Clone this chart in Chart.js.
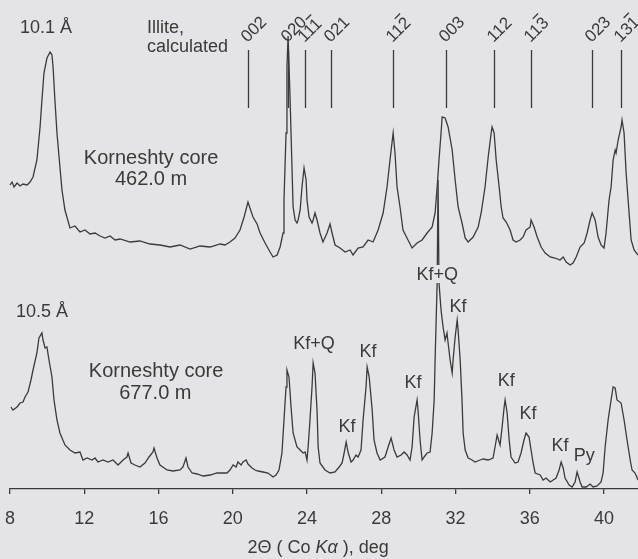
<!DOCTYPE html>
<html><head><meta charset="utf-8">
<script src="https://cdn.jsdelivr.net/npm/chart.js@4.4.1/dist/chart.umd.min.js"></script>
<style>
html,body{margin:0;padding:0;background:#e4e4e7;}
#wrap{width:638px;height:559px;position:relative;}
</style></head><body>
<div id="wrap"><canvas id="c"></canvas></div>
<script>
// ---- data: 2θ (deg, Co Kα) and intensity (arbitrary units) ----
const upperTheta = [8.00,8.11,8.22,8.38,8.54,8.70,8.92,9.08,9.24,9.45,9.62,9.72,9.83,9.99,10.16,10.26,10.32,10.42,10.53,10.69,10.80,10.96,11.23,11.50,11.77,12.04,12.31,12.58,12.85,13.12,13.39,13.66,13.93,14.47,15.00,15.54,16.08,16.62,17.16,17.70,18.24,18.78,19.32,19.58,19.85,20.12,20.39,20.61,20.82,21.09,21.31,21.47,21.74,22.01,22.17,22.39,22.55,22.71,22.76,22.87,22.92,22.98,23.09,23.19,23.25,23.36,23.46,23.52,23.63,23.73,23.84,23.95,24.00,24.11,24.27,24.33,24.43,24.54,24.70,24.86,25.08,25.24,25.35,25.51,25.78,26.05,26.32,26.48,26.75,27.02,27.29,27.56,27.83,28.10,28.31,28.47,28.64,28.74,28.85,29.01,29.17,29.44,29.66,29.93,30.20,30.47,30.74,30.90,31.01,31.11,31.22,31.28,31.44,31.60,31.82,31.98,32.14,32.35,32.52,32.68,32.95,33.22,33.38,33.59,33.76,33.92,33.97,34.08,34.19,34.35,34.46,34.56,34.73,34.94,35.10,35.26,35.48,35.64,35.80,36.02,36.07,36.23,36.40,36.61,36.83,37.10,37.36,37.63,37.80,37.96,38.17,38.33,38.50,38.71,38.93,39.09,39.25,39.36,39.52,39.68,39.84,40.00,40.11,40.27,40.38,40.49,40.60,40.65,40.76,40.92,40.97,41.08,41.19,41.35,41.46,41.62,41.83];
const upperIntensity = [80,83,78,82,79,81,80,83,88,105,138,165,192,207,213,210,198,165,132,98,75,55,37,39,33,35,31,32,29,27,29,25,26,23,24,21,20,18,20,16,19,18,21,20,23,27,35,48,63,48,41,32,22,13,8,10,18,32,65,132,198,229,165,98,58,45,42,45,55,78,97,85,65,48,42,45,52,45,32,23,32,41,32,20,17,13,15,10,17,18,25,23,35,52,78,105,132,112,78,58,35,25,17,22,25,32,38,52,78,105,132,148,147,138,115,85,58,42,27,23,28,38,52,78,108,132,138,132,105,78,58,47,43,35,25,23,25,28,35,38,45,38,28,18,12,8,7,5,8,3,0,2,8,18,22,32,45,52,45,28,20,17,32,65,78,105,115,112,125,138,145,132,92,52,25,15,10];
const lowerTheta = [8.05,8.16,8.38,8.54,8.70,8.81,8.97,9.13,9.24,9.45,9.56,9.72,9.78,9.89,9.99,10.10,10.26,10.37,10.53,10.69,10.96,11.23,11.50,11.77,11.93,12.15,12.42,12.58,12.74,13.01,13.28,13.55,13.82,14.09,14.30,14.36,14.52,14.73,15.00,15.27,15.49,15.70,15.76,15.92,16.08,16.46,16.78,17.16,17.32,17.48,17.59,17.81,18.08,18.40,18.78,19.15,19.32,19.69,19.85,20.02,20.18,20.28,20.45,20.55,20.72,20.82,21.04,21.20,21.36,21.63,21.90,22.17,22.33,22.49,22.65,22.76,22.87,22.92,23.03,23.14,23.25,23.46,23.63,23.79,23.90,24.00,24.06,24.16,24.27,24.33,24.43,24.54,24.60,24.70,24.97,25.24,25.51,25.73,25.89,26.00,26.11,26.21,26.37,26.48,26.64,26.75,26.91,27.02,27.18,27.24,27.35,27.51,27.61,27.77,27.94,28.20,28.37,28.53,28.69,28.85,29.07,29.23,29.39,29.55,29.66,29.77,29.93,29.98,30.09,30.20,30.31,30.47,30.63,30.74,30.85,30.90,31.01,31.06,31.11,31.22,31.33,31.44,31.54,31.60,31.71,31.82,31.87,31.98,32.09,32.14,32.25,32.35,32.41,32.52,32.68,32.89,33.05,33.32,33.49,33.76,34.02,34.13,34.24,34.40,34.51,34.62,34.67,34.78,34.89,34.99,35.21,35.37,35.53,35.69,35.80,35.96,36.07,36.18,36.29,36.56,36.72,36.88,37.10,37.26,37.42,37.58,37.69,37.80,37.90,38.12,38.28,38.44,38.55,38.71,38.82,39.04,39.25,39.41,39.63,39.84,39.95,40.06,40.22,40.38,40.49,40.60,40.70,40.92,41.08,41.24,41.41,41.51,41.67,41.83];
const lowerIntensity = [82,79,82,86,87,92,97,109,119,136,151,156,149,141,142,129,112,89,69,56,44,39,36,37,29,31,29,31,27,29,27,29,24,29,32,36,26,24,22,26,32,37,41,31,24,19,18,19,22,31,22,16,15,13,14,16,16,16,19,24,22,27,24,27,29,25,21,19,18,17,16,12,14,19,36,69,102,119,112,82,56,42,39,36,37,29,42,69,102,126,116,79,42,26,19,16,17,22,26,36,47,37,27,29,34,32,39,69,102,122,112,79,49,36,29,32,42,51,39,32,34,37,34,29,42,72,89,79,49,29,32,36,37,56,89,129,206,309,206,179,162,149,156,146,129,116,129,152,169,159,129,89,56,39,31,29,27,29,30,29,31,42,54,44,62,82,89,76,49,32,26,27,36,49,56,52,39,26,16,14,9,11,7,9,11,19,27,21,11,4,2,7,17,7,2,2,5,2,3,7,16,42,69,89,102,101,89,86,69,49,29,19,16,9];
const UPPER_OFFSET = 224;

// calculated illite reflections
const hklLabels = ['002','020','111','021','112','003','112','113','023','131'];
const hklBarLast = [false,false,true,false,true,false,false,true,false,true];
const hklTheta = [20.82,22.98,23.89,25.30,28.64,31.49,34.08,36.07,39.36,40.92];

// phase labels on lower pattern
const phaseLabels = ['Kf+Q','Kf','Kf','Kf','Kf+Q','Kf','Kf','Kf','Kf','Py'];
const phaseTheta  = [24.38,26.16,27.29,29.71,31.01,32.14,34.73,35.91,37.63,38.93];
const phaseLevel  = [146,63,138,107,215,183,109,76,44,34];
const phaseMasked = [false,false,false,false,true,false,false,false,false,false];

const tickValues = [8,12,16,20,24,28,32,36,40];

const FONT = '"Liberation Sans", Arial, sans-serif';
const INK = '#3a3a3a';
const BG = '#e4e4e7';

function txt(ctx, s, px, pyCenter, size, align) {
  ctx.font = size + 'px ' + FONT;
  ctx.textAlign = align || 'center';
  ctx.textBaseline = 'alphabetic';
  ctx.fillText(s, px, pyCenter + size * 0.358);
}

const decor = {
  id: 'decor',
  afterDatasetsDraw(chart) {
    const {ctx, scales: {x, y}} = chart;
    ctx.save();
    ctx.fillStyle = INK; ctx.strokeStyle = INK; ctx.lineWidth = 1.3;
    // hkl marker lines and rotated labels
    const yTop = y.getPixelForValue(439), yBot = y.getPixelForValue(381);
    hklTheta.forEach((t, i) => {
      const px = Math.round(x.getPixelForValue(t)) + 0.5;
      ctx.beginPath(); ctx.moveTo(px, yTop); ctx.lineTo(px, yBot); ctx.stroke();
      ctx.save();
      ctx.translate(px - 1, yTop - 7);
      ctx.rotate(-Math.PI / 4);
      ctx.font = '17px ' + FONT;
      ctx.textAlign = 'left'; ctx.textBaseline = 'alphabetic';
      const s = hklLabels[i];
      ctx.fillText(s, 0, 0);
      if (hklBarLast[i]) {
        const w = ctx.measureText(s).width, wl = ctx.measureText(s.slice(-1)).width;
        ctx.fillRect(w - wl + 1, -17 * 0.716 - 4, wl - 2, 1.4);
      }
      ctx.restore();
    });
    // phase labels
    phaseLabels.forEach((s, i) => {
      const px = x.getPixelForValue(phaseTheta[i]);
      const py = y.getPixelForValue(phaseLevel[i]);
      if (phaseMasked[i]) {
        ctx.font = '18px ' + FONT;
        const w = ctx.measureText(s).width;
        ctx.fillStyle = BG;
        ctx.fillRect(px - w / 2 - 2, py - 9, w + 4, 18);
        ctx.fillStyle = INK;
      }
      txt(ctx, s, px, py, 18);
    });
    // sample texts
    const up = (v) => y.getPixelForValue(v);
    txt(ctx, '10.1 Å', x.getPixelForValue(9.94), up(462), 18);
    txt(ctx, 'Illite,', x.getPixelForValue(15.38), up(462), 18, 'left');
    txt(ctx, 'calculated', x.getPixelForValue(15.38), up(443), 18, 'left');
    txt(ctx, 'Korneshty core', x.getPixelForValue(15.60), up(332), 20);
    txt(ctx, '462.0 m', x.getPixelForValue(15.60), up(311), 20);
    txt(ctx, '10.5 Å', x.getPixelForValue(9.72), up(178), 18);
    txt(ctx, 'Korneshty core', x.getPixelForValue(15.87), up(119), 20);
    txt(ctx, '677.0 m', x.getPixelForValue(15.83), up(97), 20);
    // axis title with italic K alpha
    const parts = [['2Θ ( Co ', ''], ['Kα', 'italic '], [' ), deg', '']];
    let total = 0;
    parts.forEach(p => { ctx.font = p[1] + '18px ' + FONT; total += ctx.measureText(p[0]).width; });
    let cx = x.getPixelForValue(24.6) - total / 2;
    const by = chart.height - 12 + 18 * 0.358;
    ctx.textAlign = 'left'; ctx.textBaseline = 'alphabetic';
    parts.forEach(p => { ctx.font = p[1] + '18px ' + FONT; ctx.fillText(p[0], cx, by); cx += ctx.measureText(p[0]).width; });
    ctx.restore();
  }
};

const mk = (th, I, off) => th.map((t, i) => ({x: t, y: I[i] + off}));

new Chart(document.getElementById('c'), {
  type: 'line',
  data: {
    datasets: [
      {label: 'Korneshty core 462.0 m', data: mk(upperTheta, upperIntensity, UPPER_OFFSET)},
      {label: 'Korneshty core 677.0 m', data: mk(lowerTheta, lowerIntensity, 0)}
    ].map(d => Object.assign(d, {borderColor: INK, borderWidth: 1.3, pointRadius: 0, tension: 0, fill: false, clip: false}))
  },
  options: {
    responsive: true, maintainAspectRatio: false, animation: false,
    layout: {padding: {left: 10, right: 0, top: 0, bottom: 0}},
    plugins: {legend: {display: false}, tooltip: {enabled: false}},
    scales: {
      x: {
        type: 'linear', min: 8, max: 41.83,
        afterBuildTicks: (s) => { s.ticks = tickValues.map(v => ({value: v})); },
        afterFit: (s) => { s.height = 70; s.paddingLeft = 0; s.paddingRight = 0; },
        ticks: {color: INK, font: {family: FONT, size: 18}, padding: 14, maxRotation: 0, autoSkip: false},
        grid: {drawOnChartArea: false, drawTicks: true, tickLength: 5, color: INK, lineWidth: 1.3},
        border: {display: true, color: INK, width: 1.3}
      },
      y: {type: 'linear', min: 0, max: 489, display: false}
    }
  },
  plugins: [decor]
});
</script>
</body></html>
